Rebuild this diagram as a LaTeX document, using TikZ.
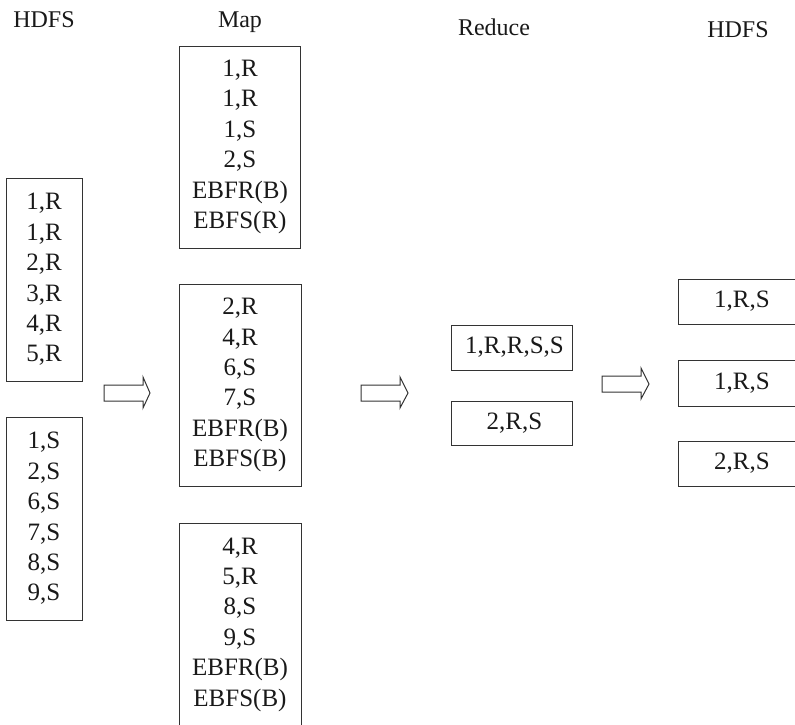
\documentclass[tikz,border=0pt]{standalone}
\usepackage{fontspec}
\setmainfont{Liberation Serif}
\begin{document}
\begin{tikzpicture}[x=1pt,y=-1pt,
  every node/.style={font=\fontsize{25}{30.4}\selectfont, text=black!90},
  databox/.style={draw=black!80, line width=1pt, rectangle, inner sep=0pt, align=center},
  tallbox/.style={databox, minimum width=#1, minimum height=202pt},
  flatbox/.style={databox, minimum width=#1, minimum height=45pt},
  header/.style={anchor=base, font=\fontsize{24}{28}\selectfont},
  blockarrow/.style={draw=black!80, line width=1pt, line join=miter}]
\useasboundingbox (0,0) rectangle (795,724);
% headers
\node[header] (h1) at (44,27) {HDFS};
\node[header] (h2) at (240,27) {Map};
\node[header] (h3) at (494,35) {Reduce};
\node[header] (h4) at (738,37) {HDFS};
% HDFS input boxes
\node[tallbox=76pt, minimum height=203pt] (in1) at (44,279.5) {1,R\\1,R\\2,R\\3,R\\4,R\\5,R};
\node[tallbox=76pt, minimum height=203pt] (in2) at (44,518.5) {1,S\\2,S\\6,S\\7,S\\8,S\\9,S};
% Map boxes
\node[tallbox=121pt] (m1) at (240,147) {1,R\\1,R\\1,S\\2,S\\EBFR(B)\\EBFS(R)};
\node[tallbox=122pt] (m2) at (240,385) {2,R\\4,R\\6,S\\7,S\\EBFR(B)\\EBFS(B)};
\node[tallbox=122pt] (m3) at (240,624.5) {4,R\\5,R\\8,S\\9,S\\EBFR(B)\\EBFS(B)};
% Reduce boxes
\node[flatbox=121pt] (r1) at (511.5,347.5) {\hspace*{6pt}1,R,R,S,S};
\node[flatbox=121pt, minimum height=44pt] (r2) at (511.5,423) {\hspace*{6pt}2,R,S};
% HDFS output boxes
\node[flatbox=128pt] (o1) at (742,301.5) {1,R,S};
\node[flatbox=128pt, minimum height=46pt] (o2) at (742,383) {1,R,S};
\node[flatbox=128pt] (o3) at (742,463.5) {2,R,S};
% block arrows
\draw[blockarrow] (104,385) -- (143,385) -- (143,377) -- (150,393) -- (143,408) -- (143,401) -- (104,401) -- cycle;
\draw[blockarrow] (361,385) -- (400,385) -- (400,377) -- (408,393) -- (400,408) -- (400,401) -- (361,401) -- cycle;
\draw[blockarrow] (602,376) -- (641,376) -- (641,368) -- (649,384) -- (641,399) -- (641,392) -- (602,392) -- cycle;
\end{tikzpicture}
\end{document}
